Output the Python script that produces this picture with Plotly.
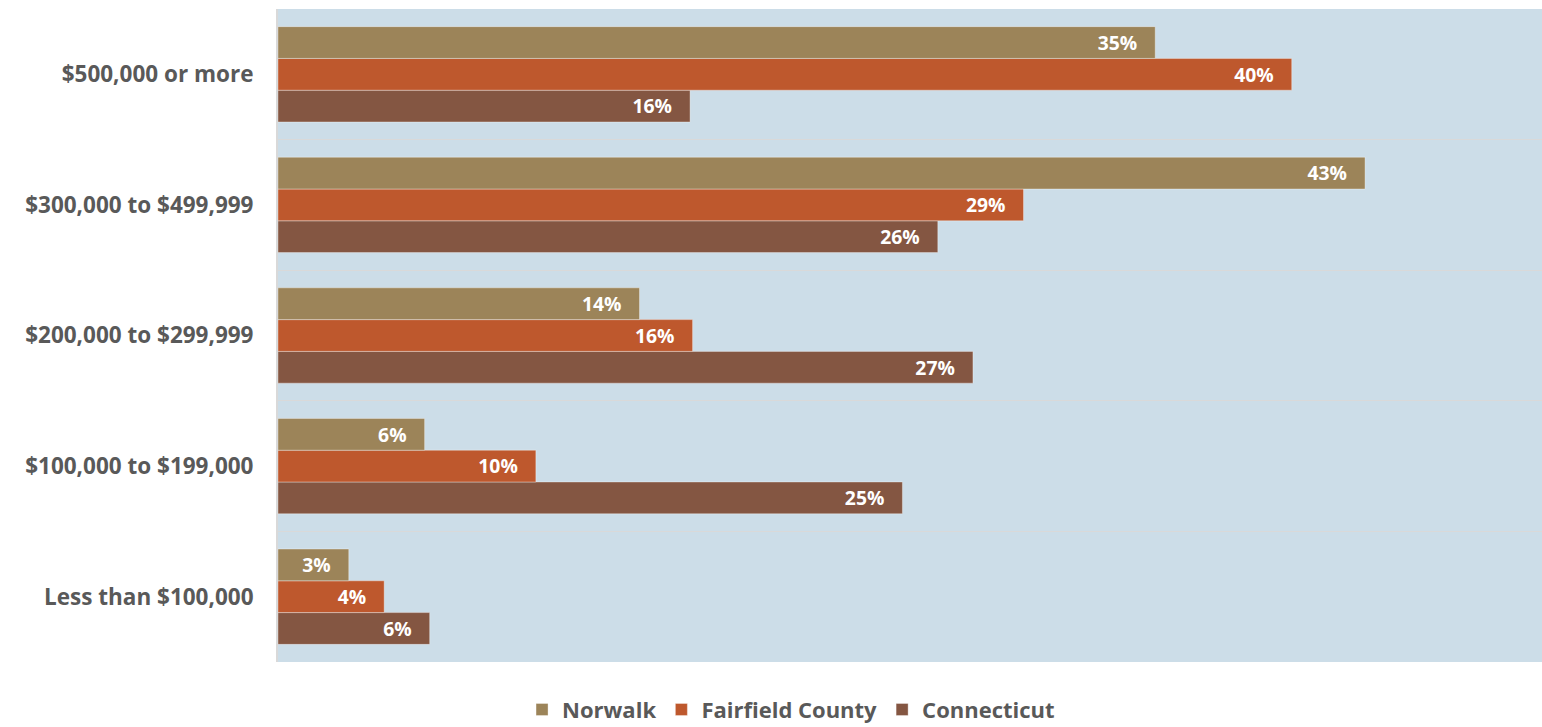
import plotly.graph_objects as go

categories = ["Less than $100,000", "$100,000 to $199,000", "$200,000 to $299,999",
              "$300,000 to $499,999", "$500,000 or more"]
norwalk = [0.028, 0.058, 0.143, 0.430, 0.347]
fairfield = [0.042, 0.102, 0.164, 0.2949, 0.401]
connecticut = [0.060, 0.247, 0.2749, 0.261, 0.163]

series = [
    ("Connecticut", connecticut, "#845642"),
    ("Fairfield County", fairfield, "#BE582D"),
    ("Norwalk", norwalk, "#9C8459"),
]

FONT = "Open Sans"
fig = go.Figure()
for name, vals, color in series:
    fig.add_trace(go.Bar(
        y=categories, x=vals, name=name, orientation="h",
        marker=dict(color=color, line=dict(width=1, color="rgba(255,255,255,0.35)")),
        texttemplate="%{x:.0%}&nbsp;&nbsp;&nbsp;", textposition="inside", insidetextanchor="end",
        textfont=dict(family=FONT, size=21, color="white", weight="bold"),
        cliponaxis=False,
    ))

fig.update_layout(
    barmode="group", bargap=0.27, bargroupgap=0,
    width=1542, height=727,
    margin=dict(l=278, r=0, t=9, b=65, autoexpand=False),
    paper_bgcolor="white", plot_bgcolor="#CCDDE8",
    font=dict(family=FONT, color="#595959"),
    legend=dict(orientation="h", traceorder="reversed", xref="container", x=0.513,
                xanchor="center", yref="paper", y=-0.073, yanchor="middle",
                font=dict(family=FONT, size=22, color="#595959", weight="bold"),
                itemwidth=30),
    showlegend=True,
)
fig.update_xaxes(range=[0, 0.5], showticklabels=False, showgrid=False, zeroline=False,
                 showline=False, fixedrange=True)
fig.update_yaxes(type="category", categoryorder="array", categoryarray=categories,
                 tickson="boundaries", showgrid=True, gridcolor="#D9D9D9", gridwidth=1,
                 showline=True, linecolor="#D9D9D9", linewidth=2, ticks="",
                 ticklabelstandoff=18,
                 tickfont=dict(family=FONT, size=22.5, color="#595959", weight="bold"))

fig.write_html("out.html", config={"displayModeBar": False},
               post_script="document.body.style.margin='0';document.body.style.overflow='hidden';")
